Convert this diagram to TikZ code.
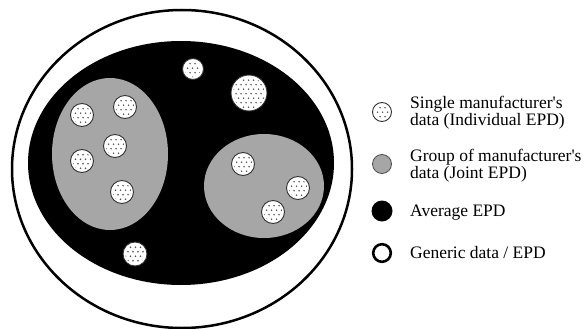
\documentclass[tikz,border=0pt]{standalone}
\usepackage{fontspec}
\setmainfont{Liberation Serif}
\definecolor{groupgray}{gray}{0.65}
\definecolor{dotgray}{gray}{0.3}
\tikzset{
  outerring/.style={draw=black, line width=2.5pt, fill=white},
  average/.style={fill=black},
  group/.style={fill=groupgray},
  diskedge/.style={draw=black!80, line width=0.9pt},
  legtext/.style={anchor=base west, inner sep=0pt, font=\fontsize{17.5}{17}\selectfont},
}
% white disk filled with a staggered grid of small dots
\newcommand\dotdisk[3]{%
  \fill[white] (#1,#2) circle (#3);
  \begin{scope}
    \clip (#1,#2) circle ({#3-2.2});
    \foreach \j in {0,...,10} {
      \foreach \i in {0,...,10} {
        \fill[dotgray] ({#1-#3+\i*5+mod(\j,2)*2.5},{#2-#3+\j*4.5+0.7}) circle (0.8);
      }
    }
  \end{scope}
  \draw[diskedge] (#1,#2) circle (#3);
}
\begin{document}
\begin{tikzpicture}[x=1pt, y=-1pt]
\useasboundingbox (0,0) rectangle (586,329);

% generic data ring, average field, joint EPD groups
\draw[outerring] (182,169) ellipse (170 and 159);
\fill[average] (181,163) ellipse (153 and 122);
\fill[group] (110,154) ellipse (58 and 76);
\fill[group] (264,186) ellipse (60 and 52);

% individual EPDs
\dotdisk{193}{69}{10.5}
\dotdisk{249}{93}{18}
\dotdisk{82}{115}{11.5}
\dotdisk{125}{107}{11.5}
\dotdisk{115}{146}{11.5}
\dotdisk{82}{161}{11.5}
\dotdisk{122}{192}{11.5}
\dotdisk{243}{164}{11.5}
\dotdisk{298}{188}{11.5}
\dotdisk{273}{212}{11.5}
\dotdisk{135}{254}{12}

% legend symbols
\dotdisk{382}{112}{9.5}
\filldraw[group, draw=black!70, line width=0.8pt] (382,164) circle (9.5);
\fill[average] (382,211) circle (10.5);
\draw[line width=2.6pt] (382,253) circle (8.8);

% legend texts
\node[legtext] (l1a) at (410,108) {Single manufacturer\textquotesingle s};
\node[legtext] (l1b) at (410,125) {data (Individual EPD)};
\node[legtext] (l2a) at (410,161) {Group of manufacturer\textquotesingle s};
\node[legtext] (l2b) at (410,178) {data (Joint EPD)};
\node[legtext] (l3) at (410,216) {Average EPD};
\node[legtext] (l4) at (410,258) {Generic data / EPD};
\end{tikzpicture}
\end{document}
